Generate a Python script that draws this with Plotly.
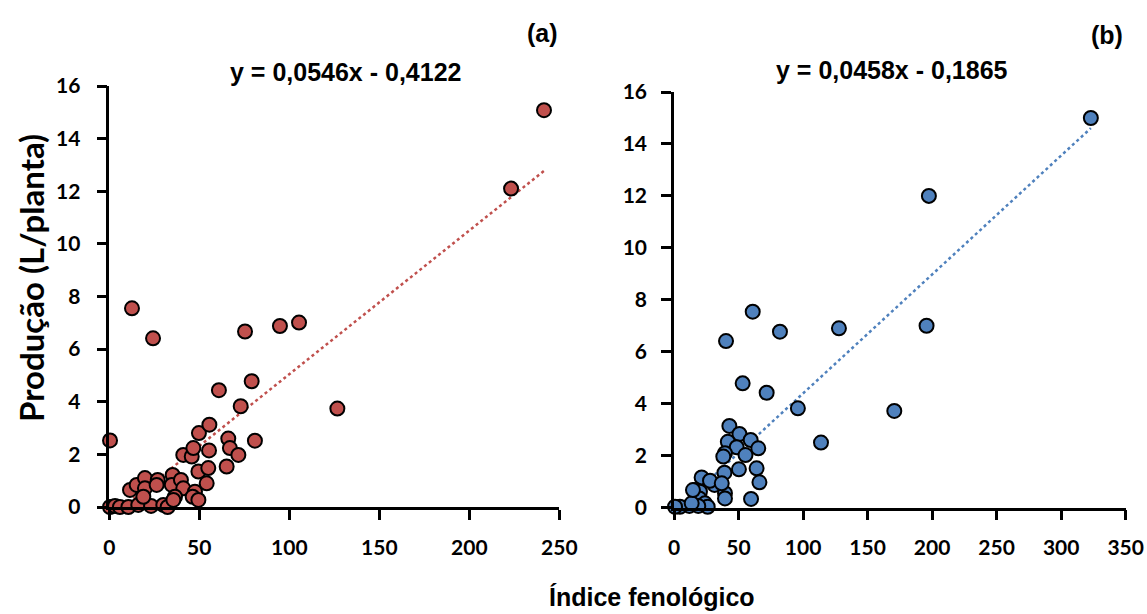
import plotly.graph_objects as go

# ---- data ----
xa = [0.4, 0.4, 3.2, 5.9, 10.6, 16.1, 23.2, 30.0, 32.4, 11.5, 15.2, 19.8, 19.8, 18.9,
      26.9, 26.3, 35.2, 34.7, 39.8, 41.1, 36.5, 35.6, 41.1, 45.8, 46.7, 49.8, 55.6,
      55.4, 49.5, 55.0, 54.1, 47.6, 46.3, 49.5, 60.9, 79.1, 73.0, 66.1, 67.0, 71.7,
      80.9, 65.2, 12.6, 24.3, 75.4, 94.8, 105.4, 126.7, 223.2, 241.5]
ya = [2.53, 0.0, 0.04, 0.0, 0.0, 0.08, 0.04, 0.08, 0.0, 0.65, 0.84, 1.10, 0.71, 0.39,
      1.03, 0.84, 1.22, 0.84, 1.03, 0.71, 0.39, 0.27, 1.98, 1.92, 2.24, 2.81, 3.13,
      2.15, 1.35, 1.48, 0.90, 0.58, 0.39, 0.27, 4.44, 4.78, 3.83, 2.60, 2.24, 1.98,
      2.52, 1.54, 7.55, 6.41, 6.67, 6.88, 7.01, 3.74, 12.1, 15.08]

xb = [323.0, 197.5, 195.7, 127.8, 82.1, 61.0, 40.3, 53.2, 71.8, 96.0, 170.7, 113.9,
      42.9, 50.7, 41.7, 59.4, 65.3, 48.6, 55.4, 39.5, 38.2, 50.3, 64.0, 66.2, 39.1,
      39.5, 39.5, 59.7, 21.4, 31.4, 27.9, 37.0, 16.3, 20.1, 19.6, 24.0, 26.1, 11.9,
      4.6, 0.8, 18.8, 13.7, 14.7]
yb = [15.0, 12.0, 7.0, 6.9, 6.77, 7.54, 6.41, 4.78, 4.42, 3.82, 3.72, 2.50,
      3.14, 2.83, 2.53, 2.60, 2.28, 2.32, 2.02, 2.09, 1.96, 1.47, 1.51, 0.97, 1.34,
      0.55, 0.35, 0.33, 1.16, 0.87, 1.03, 0.93, 0.67, 0.61, 0.35, 0.16, 0.03, 0.06,
      0.03, 0.03, 0.06, 0.16, 0.67]

slope_a, icpt_a = 0.0546, -0.4122
slope_b, icpt_b = 0.0458, -0.1865
eq_a = "y = 0,0546x - 0,4122"
eq_b = "y = 0,0458x - 0,1865"
xticks_a = [0, 50, 100, 150, 200, 250]
xticks_b = [0, 50, 100, 150, 200, 250, 300, 350]
yticks = [0, 2, 4, 6, 8, 10, 12, 14, 16]

RED = "#C0504D"
BLUE = "#4F81BD"
ARIAL = "Liberation Sans, Arial, sans-serif"
CAL = "Lato, Carlito, Calibri, sans-serif"
TICKFONT = dict(family=CAL, size=21, color="black", weight="bold")

fig = go.Figure()

def trend(xs, m, c):
    x0, x1 = min(xs), max(xs)
    return [x0, x1], [m * x0 + c, m * x1 + c]

tx, ty = trend(xa, slope_a, icpt_a)
fig.add_trace(go.Scatter(x=tx, y=ty, mode="lines", xaxis="x", yaxis="y",
                         line=dict(color=RED, width=2.5, dash="dot"), showlegend=False))
fig.add_trace(go.Scatter(x=xa, y=ya, mode="markers", xaxis="x", yaxis="y", cliponaxis=False,
                         marker=dict(color=RED, size=14, line=dict(color="black", width=2)),
                         showlegend=False))
tx, ty = trend(xb, slope_b, icpt_b)
fig.add_trace(go.Scatter(x=tx, y=ty, mode="lines", xaxis="x2", yaxis="y2",
                         line=dict(color=BLUE, width=2.5, dash="dot"), showlegend=False))
fig.add_trace(go.Scatter(x=xb, y=yb, mode="markers", xaxis="x2", yaxis="y2", cliponaxis=False,
                         marker=dict(color=BLUE, size=14, line=dict(color="black", width=2)),
                         showlegend=False))

W, H = 1147, 614
def px_x(p):
    return p / W
def px_y(p):
    return (H - p) / H

axcommon = dict(showgrid=False, zeroline=False, showline=True, linecolor="black", linewidth=2.5,
                ticks="outside", ticklen=10, tickwidth=2.5, tickcolor="black", tickfont=TICKFONT,
                automargin=False, fixedrange=True)

fig.update_layout(
    template="none",
    width=W, height=H, margin=dict(l=0, r=0, t=0, b=0, pad=0, autoexpand=False),
    paper_bgcolor="white", plot_bgcolor="white",
    xaxis=dict(domain=[px_x(109.3), px_x(559.3)], range=[0, 250], tickvals=xticks_a,
               anchor="y", ticklabelstandoff=10, **axcommon),
    yaxis=dict(domain=[px_y(507), px_y(86)], range=[0, 16], tickvals=yticks,
               anchor="x", ticklabelstandoff=12, **axcommon),
    xaxis2=dict(domain=[px_x(674), px_x(1125.7)], range=[0, 350], tickvals=xticks_b,
                anchor="y2", ticklabelstandoff=10, **axcommon),
    yaxis2=dict(domain=[px_y(507.5), px_y(92)], range=[0, 16], tickvals=yticks,
                anchor="x2", ticklabelstandoff=10, **axcommon),
)

ann = []
ann.append(dict(text=eq_a, x=px_x(345), y=px_y(72), xref="paper", yref="paper",
                showarrow=False, xanchor="center", yanchor="middle",
                font=dict(family=ARIAL, size=25, color="black", weight="bold")))
ann.append(dict(text=eq_b, x=px_x(892), y=px_y(70), xref="paper", yref="paper",
                showarrow=False, xanchor="center", yanchor="middle",
                font=dict(family=ARIAL, size=25, color="black", weight="bold")))
ann.append(dict(text="(a)", x=px_x(542), y=px_y(33), xref="paper", yref="paper",
                showarrow=False, xanchor="center", yanchor="middle",
                font=dict(family=ARIAL, size=25, color="black", weight="bold")))
ann.append(dict(text="(b)", x=px_x(1107), y=px_y(35), xref="paper", yref="paper",
                showarrow=False, xanchor="center", yanchor="middle",
                font=dict(family=ARIAL, size=25, color="black", weight="bold")))
ann.append(dict(text="Produção (L/planta)", x=px_x(31), y=px_y(278), xref="paper", yref="paper",
                showarrow=False, xanchor="center", yanchor="middle", textangle=-90,
                font=dict(family=CAL, size=33, color="black", weight="bold")))
ann.append(dict(text="Índice fenológico", x=px_x(652), y=px_y(597), xref="paper", yref="paper",
                showarrow=False, xanchor="center", yanchor="middle",
                font=dict(family=ARIAL, size=25, color="black", weight="bold")))
fig.update_layout(annotations=ann)

fig.write_html("out.html", config={"displayModeBar": False})
